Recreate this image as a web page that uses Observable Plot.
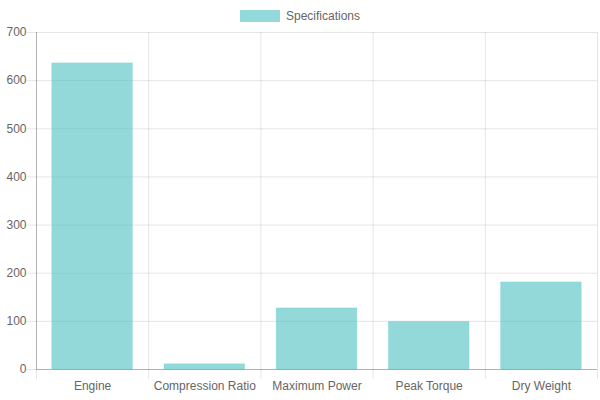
<!DOCTYPE html>
<html>
<head>
<meta charset="utf-8">
<script src="https://cdn.jsdelivr.net/npm/d3@7"></script>
<script src="https://cdn.jsdelivr.net/npm/@observablehq/plot@0.6"></script>
<style>
  html, body { margin: 0; padding: 0; background: #fff; }
  #wrap { position: relative; width: 600px; height: 400px; font-family: "Liberation Sans", Arial, sans-serif; }
  #legend { position: absolute; top: 9px; left: 0; width: 600px; display: flex; justify-content: center; align-items: center; font-size: 12px; color: #666; }
  #legend .sw { width: 40px; height: 12px; background: rgba(75,192,192,0.6); margin-right: 6px; }
  #chart { position: absolute; top: 0; left: 0; }
</style>
</head>
<body>
<div id="wrap">
  <div id="chart"></div>
  <div id="legend"><span class="sw"></span><span>Specifications</span></div>
</div>
<script>
const categories = ["Engine", "Compression Ratio", "Maximum Power", "Peak Torque", "Dry Weight"];
const values = [636, 11, 127, 99, 181];
const seriesName = "Specifications";
const yTicks = [0, 100, 200, 300, 400, 500, 600, 700];

const data = categories.map((c, i) => ({ i, category: c, value: values[i] }));
const boundaries = d3.range(categories.length + 1);
const centers = categories.map((c, i) => i + 0.5);

const chart = Plot.plot({
  width: 600,
  height: 400,
  marginTop: 32,
  marginBottom: 31,
  marginLeft: 36,
  marginRight: 3,
  style: { fontFamily: "Liberation Sans, Arial, sans-serif", fontSize: "12px", color: "#666", background: "transparent" },
  x: { type: "linear", domain: [0, categories.length], axis: null },
  y: { domain: [0, 700], axis: null },
  marks: [
    Plot.ruleY(yTicks.filter(d => d !== 0), { stroke: "rgba(0,0,0,0.1)", strokeWidth: 1 }),
    Plot.axisY({ ticks: yTicks, tickSize: 9, tickPadding: 1, stroke: "rgba(0,0,0,0.1)", fill: "#666", label: null, tickFormat: d => String(d) }),
    Plot.ruleX(boundaries.slice(1), { stroke: "rgba(0,0,0,0.1)", strokeWidth: 1 }),
    Plot.axisX({ ticks: boundaries, tickSize: 10, stroke: "rgba(0,0,0,0.1)", label: null, tickFormat: () => "" }),
    Plot.rectY(data, {
      x1: d => d.i + 0.14,
      x2: d => d.i + 0.86,
      y: "value",
      fill: "rgba(75,192,192,0.6)",
      stroke: "rgba(75,192,192,0.15)",
      strokeWidth: 1,
      inset: 0
    }),
    Plot.ruleY([0], { stroke: "rgba(0,0,0,0.3)", strokeWidth: 1 }),
    Plot.ruleX([0], { stroke: "rgba(0,0,0,0.3)", strokeWidth: 1 }),
    Plot.axisX({ ticks: centers, tickSize: 0, tickPadding: 12, fill: "#666", label: null, tickFormat: d => categories[Math.floor(d)] })
  ]
});
document.getElementById("chart").appendChild(chart);
</script>
</body>
</html>
